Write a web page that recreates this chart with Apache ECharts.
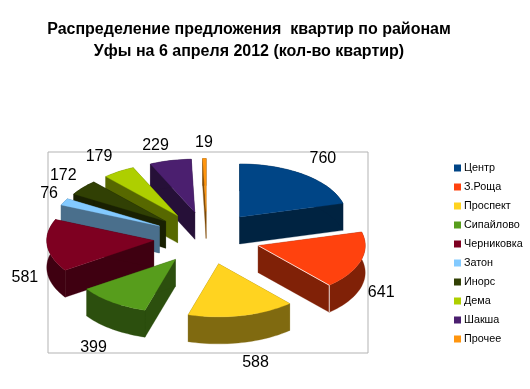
<!DOCTYPE html>
<html><head><meta charset="utf-8">
<style>html,body{margin:0;padding:0;background:#fff}#c{width:530px;height:389px}</style>
<script src="https://cdn.jsdelivr.net/npm/echarts@6/dist/echarts.min.js"></script>
</head><body><div id="c"></div>
<script>
const categories = ['Центр','З.Роща','Проспект','Сипайлово','Черниковка','Затон','Инорс','Дема','Шакша','Прочее'];
const values = [760,641,588,399,581,76,172,179,229,19];
const topColors = ['#004586','#ff420e','#ffd320','#579d1c','#7e0021','#83caff','#314004','#aecf00','#4b1f6f','#ff950e'];
const wallColors = ['#002341','#802107','#806a10','#2c4f0e','#3f0011','#4a6f8c','#192002','#576800','#261038','#804b07'];
const titleText = 'Распределение предложения  квартир по районам\nУфы на 6 апреля 2012 (кол-во квартир)';

// layout of the projected pie, in axis units (1 unit = 1 px)
const RX = 107, RY = 53, DEPTH = 27, EXPLODE = 0.5, LABEL_R = 1.2;
const labelNudge = [[5,-8],[0,29],[9,37],[-6,37],[-1,31],[4,-3],[-3,-5],[-8,-6],[-10,-5],[0,-5]];
const highlightedEdge = 1;

const total = values.reduce((a,b)=>a+b,0);
let acc = 0;
const slices = values.map((v,i)=>{
  const a0 = acc/total*Math.PI*2; acc += v;
  const a1 = acc/total*Math.PI*2; const mid = (a0+a1)/2;
  return {i,a0,a1,mid,depthKey:-Math.cos(mid)};
});
const pt = (a,r=1)=>[RX*r*Math.sin(a), -RY*r*Math.cos(a)];
const order = slices.slice().sort((a,b)=>a.depthKey-b.depthKey).map(s=>s.i);

function renderSlice(params, api){
  const s = slices[order[params.seriesIndex]];
  const d = pt(s.mid, EXPLODE);
  const arc = [];
  const n = Math.max(2, Math.ceil((s.a1-s.a0)/(Math.PI/90)));
  for(let k=0;k<=n;k++){ const p = pt(s.a0+(s.a1-s.a0)*k/n); arc.push([d[0]+p[0], d[1]+p[1]]); }
  const down = p=>[p[0],p[1]+DEPTH];
  const C = p=>api.coord(p);
  const poly = (pts,fill)=>({type:'polygon',shape:{points:pts.map(C)},style:{fill,stroke:fill,lineWidth:0.3}});
  const first = arc[0], last = arc[arc.length-1];
  const wall = wallColors[s.i];
  const children = [
    poly([d,first,down(first),down(d)],wall),
    poly([d,last,down(last),down(d)],wall),
    poly(arc.concat(arc.slice().reverse().map(down)),wall),
    poly([d].concat(arc),topColors[s.i])
  ];
  if(s.i===highlightedEdge){
    children.push({type:'polyline',shape:{points:[d,last,down(last)].map(C)},
      style:{fill:null,stroke:'#fff',lineWidth:1,opacity:0.8}});
  }
  const lp = pt(s.mid,LABEL_R), nudge = labelNudge[s.i];
  const lc = C([d[0]+lp[0]+nudge[0], d[1]+lp[1]+nudge[1]]);
  children.push({type:'text',style:{x:lc[0],y:lc[1],text:String(values[s.i]),fill:'#000',
    font:'16px "Liberation Sans"',textAlign:'center',textVerticalAlign:'middle'}});
  return {type:'group',children};
}

const chart = echarts.init(document.getElementById('c'),null,{renderer:'canvas'});
chart.setOption({
  animation:false,
  backgroundColor:'#fff',
  title:{text:titleText,left:244,top:14,textAlign:'center',
    textStyle:{fontFamily:'Liberation Sans',fontSize:16,fontWeight:'bold',color:'#000',lineHeight:22}},
  legend:{orient:'vertical',left:454,top:162,padding:0,icon:'rect',itemWidth:7,itemHeight:7,itemGap:7,
    selectedMode:false,data:categories,
    textStyle:{fontFamily:'Liberation Sans',fontSize:10.8,color:'#000',padding:[0,0,0,-2],lineHeight:12}},
  grid:{left:48,top:152,width:320,height:201,show:true,borderColor:'#b3b3b3',borderWidth:1,backgroundColor:'transparent'},
  xAxis:{type:'value',min:-159,max:161,show:false},
  yAxis:{type:'value',min:-86,max:115,inverse:true,show:false},
  series:order.map(i=>({
    type:'custom',name:categories[i],coordinateSystem:'cartesian2d',clip:false,silent:true,
    itemStyle:{color:topColors[i]},
    renderItem:renderSlice,
    data:[[0,0,values[i]]]
  }))
});
</script></body></html>
